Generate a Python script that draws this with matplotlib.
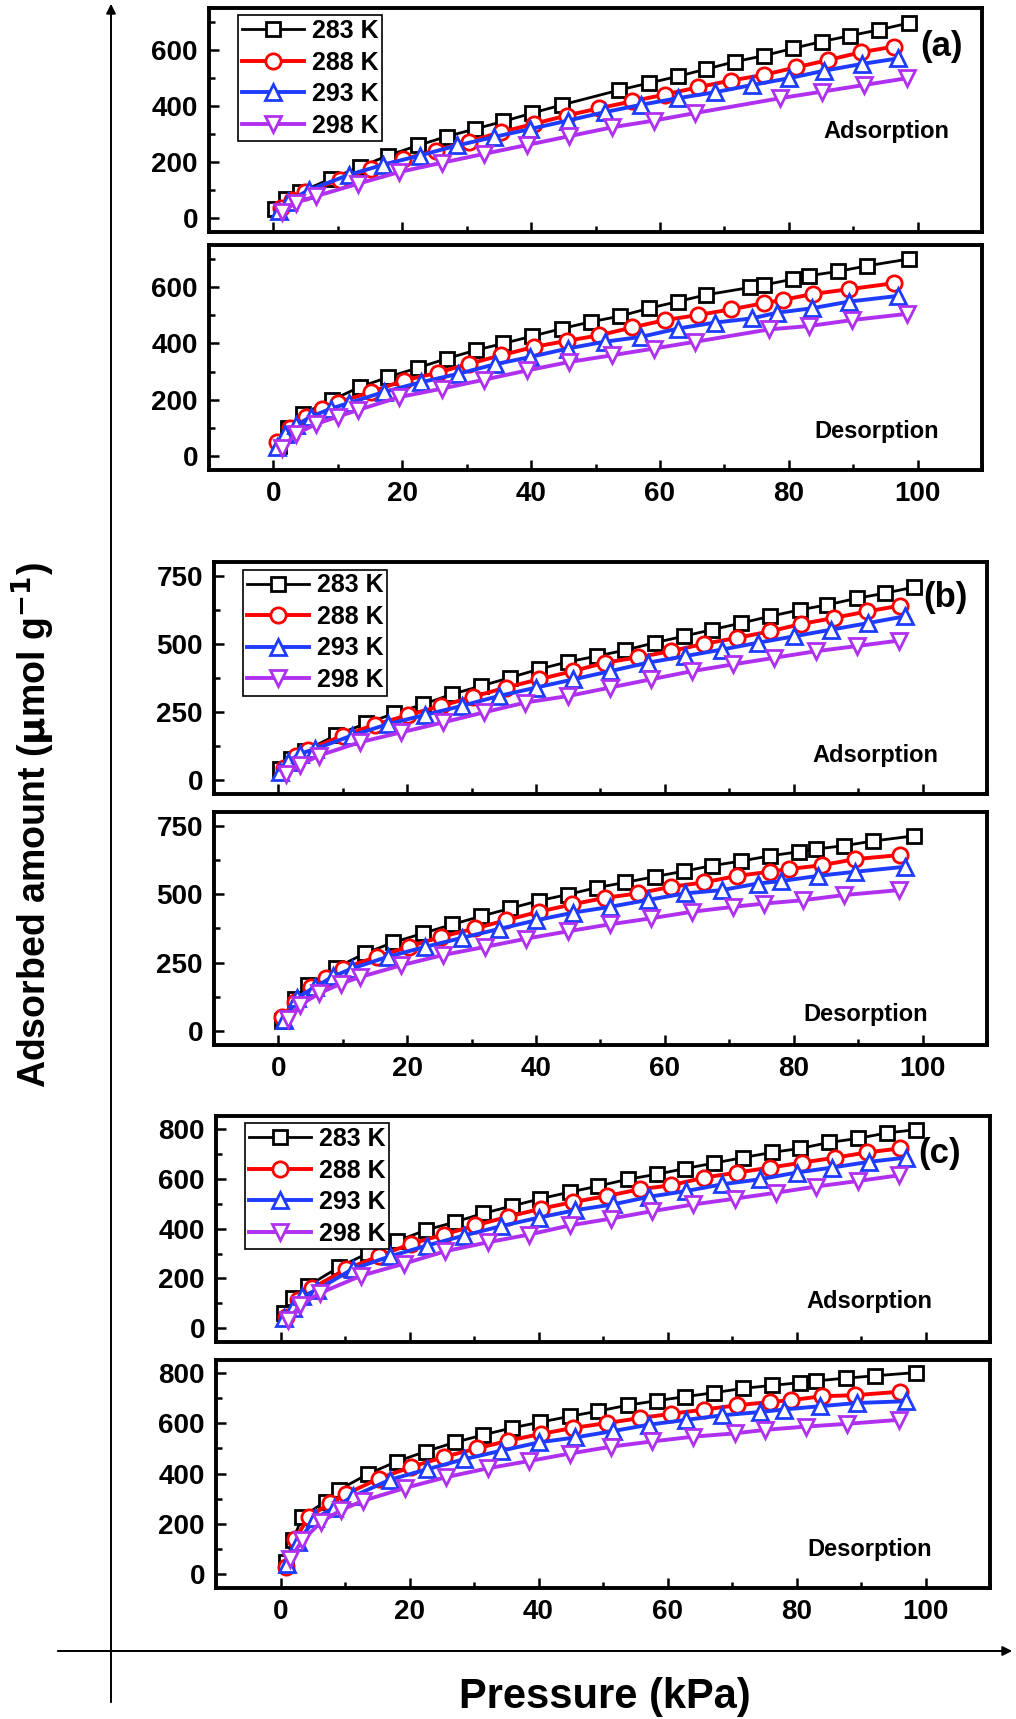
import matplotlib
matplotlib.use('Agg')
import matplotlib.pyplot as plt
from matplotlib.patches import FancyArrowPatch
from matplotlib.ticker import MultipleLocator

plt.rcParams['font.family'] = ['Liberation Sans', 'DejaVu Sans']
plt.rcParams['font.weight'] = 'bold'

temps = ['283 K', '288 K', '293 K', '298 K']
colors = ['#000000', '#ff0000', '#1e3cff', '#b030f0']
markers = ['s', 'o', '^', 'v']
msizes = [10, 11, 12, 12]
lwidths = [2.0, 2.8, 2.8, 2.8]

# ---- panel (a) adsorption
a_ads_283_x = [0.3, 2.0, 4.2, 8.9, 13.4, 17.8, 22.4, 26.9, 31.3, 35.7, 40.2, 44.8, 53.7, 58.3, 62.8, 67.2, 71.6, 76.2, 80.7, 85.1, 89.5, 94.0, 98.6]
a_ads_283_y = [31, 69, 93, 140, 182, 223, 259, 291, 318, 345, 375, 404, 457, 482, 506, 532, 558, 580, 606, 630, 651, 672, 696]
a_ads_288_x = [1.2, 2.9, 4.9, 10.3, 15.1, 20.1, 25.2, 30.3, 35.4, 40.4, 45.5, 50.6, 55.7, 60.8, 65.9, 71.0, 76.1, 81.1, 86.1, 91.2, 96.3]
a_ads_288_y = [36, 63, 93, 137, 176, 209, 241, 273, 307, 336, 366, 392, 417, 441, 467, 491, 511, 538, 564, 592, 612]
a_ads_293_x = [0.8, 2.2, 5.5, 11.7, 17.0, 22.7, 28.5, 34.2, 39.9, 45.7, 51.4, 57.0, 62.8, 68.5, 74.3, 80.0, 85.5, 91.3, 97.0]
a_ads_293_y = [25, 58, 100, 154, 190, 223, 259, 289, 318, 348, 378, 404, 428, 449, 475, 499, 526, 550, 570]
a_ads_298_x = [1.4, 3.5, 6.6, 13.1, 19.5, 26.1, 32.7, 39.4, 45.9, 52.6, 59.1, 65.5, 78.7, 85.1, 91.7, 98.3]
a_ads_298_y = [21, 55, 78, 122, 164, 197, 229, 261, 292, 324, 348, 375, 428, 451, 475, 499]

# ---- panel (a) desorption
a_des_283_x = [0.9, 2.2, 4.6, 9.1, 13.4, 17.8, 22.5, 26.9, 31.4, 35.7, 40.2, 44.8, 49.3, 53.8, 58.3, 62.8, 67.2, 74.0, 76.2, 80.7, 83.2, 87.6, 92.2, 98.6]
a_des_283_y = [36, 100, 150, 199, 245, 280, 314, 346, 376, 400, 426, 453, 477, 497, 525, 549, 573, 599, 608, 629, 641, 656, 676, 700]
a_des_288_x = [0.6, 2.6, 5.0, 7.6, 10.0, 15.1, 20.2, 25.5, 30.4, 35.4, 40.5, 45.5, 50.6, 55.7, 60.8, 65.9, 71.0, 76.1, 79.1, 83.8, 89.4, 96.3]
a_des_288_y = [48, 100, 140, 167, 190, 227, 268, 296, 328, 358, 388, 409, 429, 457, 483, 501, 521, 543, 555, 576, 593, 614]
a_des_293_x = [0.6, 1.8, 3.5, 5.9, 8.9, 11.7, 17.1, 22.9, 28.7, 34.4, 39.9, 45.7, 51.4, 57.0, 62.8, 68.5, 74.3, 78.1, 83.6, 89.4, 97.0]
a_des_293_y = [32, 78, 110, 140, 168, 188, 227, 262, 292, 326, 352, 382, 406, 423, 453, 474, 489, 509, 525, 549, 569]
a_des_298_x = [1.4, 3.5, 6.6, 10.0, 13.1, 19.5, 26.1, 32.7, 39.4, 45.9, 52.6, 59.1, 65.5, 77.0, 83.2, 89.8, 98.3]
a_des_298_y = [30, 78, 113, 140, 163, 209, 239, 271, 304, 334, 358, 382, 406, 450, 462, 483, 505]

# ---- panel (b) adsorption
b_ads_283_x = [0.3, 2.0, 4.2, 9.0, 13.6, 18.0, 22.5, 27.0, 31.5, 35.9, 40.4, 44.9, 49.4, 53.8, 58.4, 62.9, 67.3, 71.8, 76.3, 81.0, 85.2, 89.8, 94.2, 98.7]
b_ads_283_y = [42, 79, 109, 166, 209, 245, 279, 316, 346, 376, 407, 434, 455, 477, 504, 528, 552, 576, 601, 625, 643, 667, 686, 708]
b_ads_288_x = [0.8, 2.7, 4.6, 10.0, 15.0, 20.1, 25.3, 30.2, 35.3, 40.4, 45.7, 50.7, 55.8, 60.9, 66.0, 71.2, 76.3, 81.2, 86.2, 91.4, 96.5]
b_ads_288_y = [46, 91, 112, 164, 204, 239, 273, 306, 340, 370, 400, 431, 451, 473, 500, 522, 546, 573, 595, 619, 640]
b_ads_293_x = [0.3, 1.5, 3.3, 5.7, 11.4, 17.0, 22.8, 28.5, 34.2, 40.0, 45.8, 51.5, 57.3, 63.1, 68.8, 74.4, 80.1, 85.8, 91.5, 97.2]
b_ads_293_y = [30, 67, 97, 115, 164, 206, 240, 273, 309, 340, 370, 400, 431, 455, 479, 504, 528, 552, 576, 601]
b_ads_298_x = [1.2, 3.3, 6.3, 12.7, 19.1, 25.5, 31.9, 38.3, 45.0, 51.5, 57.8, 64.2, 70.6, 77.0, 83.4, 89.8, 96.3]
b_ads_298_y = [24, 55, 91, 140, 176, 212, 249, 285, 309, 340, 370, 400, 425, 449, 473, 492, 512]

# ---- panel (b) desorption
b_des_283_x = [0.6, 2.6, 4.6, 8.9, 13.4, 17.8, 22.4, 27.0, 31.5, 35.9, 40.4, 44.9, 49.4, 53.8, 58.4, 62.9, 67.3, 71.8, 76.3, 80.8, 83.4, 87.8, 92.3, 98.7]
b_des_283_y = [37, 116, 168, 231, 284, 324, 357, 390, 420, 448, 476, 499, 524, 543, 564, 584, 604, 621, 640, 655, 665, 677, 694, 713]
b_des_288_x = [0.6, 2.5, 5.0, 7.4, 10.0, 15.3, 20.2, 25.3, 30.5, 35.3, 40.4, 45.6, 50.7, 55.8, 60.9, 66.0, 71.2, 76.3, 79.3, 84.4, 89.5, 96.5]
b_des_288_y = [52, 107, 160, 195, 229, 272, 308, 345, 375, 405, 436, 463, 487, 503, 527, 543, 567, 582, 592, 606, 628, 643]
b_des_293_x = [0.9, 2.9, 5.7, 8.5, 11.4, 17.0, 22.8, 28.5, 34.2, 40.0, 45.8, 51.5, 57.3, 63.1, 68.8, 74.4, 78.0, 83.8, 89.5, 97.2]
b_des_293_y = [40, 122, 162, 200, 229, 272, 308, 341, 373, 405, 433, 454, 479, 503, 515, 539, 548, 567, 582, 600]
b_des_298_x = [1.5, 3.3, 6.3, 9.7, 12.7, 19.1, 25.5, 32.1, 38.5, 45.0, 51.4, 57.8, 64.2, 70.6, 75.4, 81.4, 87.8, 96.3]
b_des_298_y = [46, 95, 138, 174, 198, 241, 278, 308, 338, 365, 390, 412, 436, 454, 466, 478, 497, 515]

# ---- panel (c) adsorption
c_ads_283_x = [0.6, 2.0, 4.3, 9.1, 13.6, 18.0, 22.5, 27.0, 31.4, 35.9, 40.3, 44.9, 49.3, 53.8, 58.3, 62.7, 67.2, 71.7, 76.2, 80.6, 85.1, 89.5, 94.0, 98.5]
c_ads_283_y = [63, 121, 171, 246, 302, 349, 394, 426, 461, 491, 520, 547, 571, 598, 618, 641, 663, 685, 706, 722, 746, 762, 784, 797]
c_ads_288_x = [0.9, 2.7, 4.9, 10.2, 15.2, 20.2, 25.3, 30.2, 35.3, 40.4, 45.4, 50.6, 55.7, 60.6, 65.7, 70.8, 75.9, 80.9, 86.0, 91.0, 96.1]
c_ads_288_y = [47, 114, 161, 238, 289, 339, 376, 413, 448, 480, 507, 531, 558, 574, 605, 625, 645, 665, 685, 706, 722]
c_ads_293_x = [0.6, 1.9, 3.4, 5.7, 11.2, 17.0, 22.7, 28.4, 34.2, 40.0, 45.7, 51.5, 57.2, 62.9, 68.5, 74.3, 80.0, 85.5, 91.2, 97.0]
c_ads_293_y = [40, 81, 128, 155, 238, 289, 332, 372, 410, 444, 474, 497, 528, 551, 578, 598, 625, 645, 668, 685]
c_ads_298_x = [1.2, 3.1, 6.1, 12.5, 19.1, 25.5, 32.1, 38.5, 44.9, 51.2, 57.6, 64.0, 70.4, 76.8, 83.1, 89.5, 95.9]
c_ads_298_y = [34, 94, 141, 211, 259, 309, 345, 376, 413, 440, 470, 497, 520, 544, 569, 591, 614]

# ---- panel (c) desorption
c_des_283_x = [0.9, 1.9, 3.4, 7.0, 9.1, 13.6, 18.0, 22.5, 27.0, 31.4, 35.9, 40.3, 44.9, 49.3, 53.8, 58.3, 62.7, 67.2, 71.7, 76.2, 80.6, 83.1, 87.7, 92.1, 98.5]
c_des_283_y = [47, 134, 229, 289, 336, 399, 448, 488, 524, 554, 582, 605, 628, 649, 672, 690, 706, 722, 739, 751, 762, 769, 780, 789, 802]
c_des_288_x = [0.9, 2.3, 4.4, 7.7, 10.2, 15.2, 20.2, 25.3, 30.4, 35.3, 40.4, 45.4, 50.6, 55.7, 60.6, 65.7, 70.8, 75.9, 79.1, 84.0, 89.1, 96.1]
c_des_288_y = [27, 141, 228, 282, 319, 380, 426, 466, 500, 531, 558, 582, 601, 621, 638, 655, 672, 685, 692, 708, 712, 726]
c_des_293_x = [1.0, 2.7, 5.4, 8.3, 11.2, 17.0, 22.7, 28.4, 34.2, 40.0, 45.7, 51.5, 57.2, 62.9, 68.5, 74.3, 78.0, 83.6, 89.4, 97.0]
c_des_293_y = [40, 128, 222, 265, 309, 376, 417, 457, 491, 524, 544, 569, 595, 614, 632, 645, 655, 668, 681, 688]
c_des_298_x = [1.4, 3.4, 6.3, 9.4, 12.8, 19.3, 25.7, 32.1, 38.5, 44.9, 51.2, 57.6, 64.0, 70.4, 75.1, 81.4, 87.8, 95.9]
c_des_298_y = [60, 134, 208, 255, 292, 343, 386, 421, 450, 480, 507, 528, 547, 560, 574, 587, 598, 614]

x_ticks = [0, 20, 40, 60, 80, 100]

# panel table: (label, top box px, bottom box px, ylim, y major, text spots, ads series, des series)
W, H = 1016, 1719
panels = [
    ('(a)', (209, 982, 8, 232), (209, 982, 245, 470), (-50, 750), 200, (0.947, 0.83), (0.876, 0.45), (0.864, 0.173),
     [(a_ads_283_x, a_ads_283_y), (a_ads_288_x, a_ads_288_y), (a_ads_293_x, a_ads_293_y), (a_ads_298_x, a_ads_298_y)],
     [(a_des_283_x, a_des_283_y), (a_des_288_x, a_des_288_y), (a_des_293_x, a_des_293_y), (a_des_298_x, a_des_298_y)]),
    ('(b)', (214, 987, 562, 794), (214, 987, 812, 1045), (-50, 800), 250, (0.946, 0.849), (0.855, 0.168), (0.843, 0.133),
     [(b_ads_283_x, b_ads_283_y), (b_ads_288_x, b_ads_288_y), (b_ads_293_x, b_ads_293_y), (b_ads_298_x, b_ads_298_y)],
     [(b_des_283_x, b_des_283_y), (b_des_288_x, b_des_288_y), (b_des_293_x, b_des_293_y), (b_des_298_x, b_des_298_y)]),
    ('(c)', (216, 990, 1116, 1342), (216, 990, 1360, 1588), (-55, 852), 200, (0.935, 0.836), (0.844, 0.181), (0.844, 0.171),
     [(c_ads_283_x, c_ads_283_y), (c_ads_288_x, c_ads_288_y), (c_ads_293_x, c_ads_293_y), (c_ads_298_x, c_ads_298_y)],
     [(c_des_283_x, c_des_283_y), (c_des_288_x, c_des_288_y), (c_des_293_x, c_des_293_y), (c_des_298_x, c_des_298_y)]),
]


def px_axes(fig, box):
    l, r, t, b = box
    return fig.add_axes([l / W, 1 - b / H, (r - l) / W, (b - t) / H])


def style_axes(ax, ylim, ymaj, show_x):
    ax.set_xlim(-10, 110)
    ax.set_ylim(*ylim)
    ax.xaxis.set_major_locator(MultipleLocator(20))
    ax.xaxis.set_minor_locator(MultipleLocator(10))
    ax.yaxis.set_major_locator(MultipleLocator(ymaj))
    ax.yaxis.set_minor_locator(MultipleLocator(ymaj / 2))
    for sp in ax.spines.values():
        sp.set_linewidth(2.8)
    ax.tick_params(which='both', direction='in', top=False, right=False, width=1.8,
                   labelsize=20, pad=8)
    ax.tick_params(which='major', length=7)
    ax.tick_params(which='minor', length=4)
    if not show_x:
        ax.tick_params(axis='x', labelbottom=False)
    for lab in ax.get_xticklabels() + ax.get_yticklabels():
        lab.set_fontweight('bold')


fig = plt.figure(figsize=(W / 100, H / 100), dpi=100)

for name, top_box, bot_box, ylim, ymaj, name_pos, ads_pos, des_pos, ads, des in panels:
    ax1 = px_axes(fig, top_box)
    ax2 = px_axes(fig, bot_box)
    for i in range(4):
        ax1.plot(ads[i][0], ads[i][1], color=colors[i], marker=markers[i], ms=msizes[i],
                 mfc='white', mec=colors[i], mew=2.0, lw=lwidths[i], label=temps[i])
        ax2.plot(des[i][0], des[i][1], color=colors[i], marker=markers[i], ms=msizes[i],
                 mfc='white', mec=colors[i], mew=2.0, lw=lwidths[i])
    style_axes(ax1, ylim, ymaj, False)
    style_axes(ax2, ylim, ymaj, True)
    ax1.set_xticks(x_ticks)
    ax2.set_xticks(x_ticks)
    leg = ax1.legend(loc='upper left', bbox_to_anchor=(0.0375, 0.967), borderaxespad=0,
                     prop={'weight': 'bold', 'size': 18}, frameon=True, fancybox=False,
                     edgecolor='black', framealpha=1, borderpad=0.15, handlelength=2.5,
                     handletextpad=0.3, labelspacing=0.3)
    leg.get_frame().set_linewidth(1.2)
    ax1.text(name_pos[0], name_pos[1], name, transform=ax1.transAxes, ha='center', va='center',
             fontsize=25, fontweight='bold')
    ax1.text(ads_pos[0], ads_pos[1], 'Adsorption', transform=ax1.transAxes, ha='center',
             va='center', fontsize=17, fontweight='bold')
    ax2.text(des_pos[0], des_pos[1], 'Desorption', transform=ax2.transAxes, ha='center',
             va='center', fontsize=17, fontweight='bold')

# axis arrows drawn across the whole figure
fig.add_artist(FancyArrowPatch((111 / W, 1 - 1705 / H), (111 / W, 1 - 1 / H),
                               transform=fig.transFigure, arrowstyle='-|>', mutation_scale=14,
                               lw=1.4, color='black'))
fig.add_artist(FancyArrowPatch((55 / W, 1 - 1651 / H), (1015 / W, 1 - 1651 / H),
                               transform=fig.transFigure, arrowstyle='-|>', mutation_scale=14,
                               lw=1.4, color='black'))

fig.text(33 / W, 1 - 825 / H, r'Adsorbed amount ($\mathbf{\mu}$mol g$^{\mathbf{-1}}$)', rotation=90,
         ha='center', va='center', fontsize=27, fontweight='bold')
fig.text(605 / W, 1 - 1697 / H, 'Pressure (kPa)', ha='center', va='center',
         fontsize=30, fontweight='bold')

plt.savefig('out.png', dpi=100)
